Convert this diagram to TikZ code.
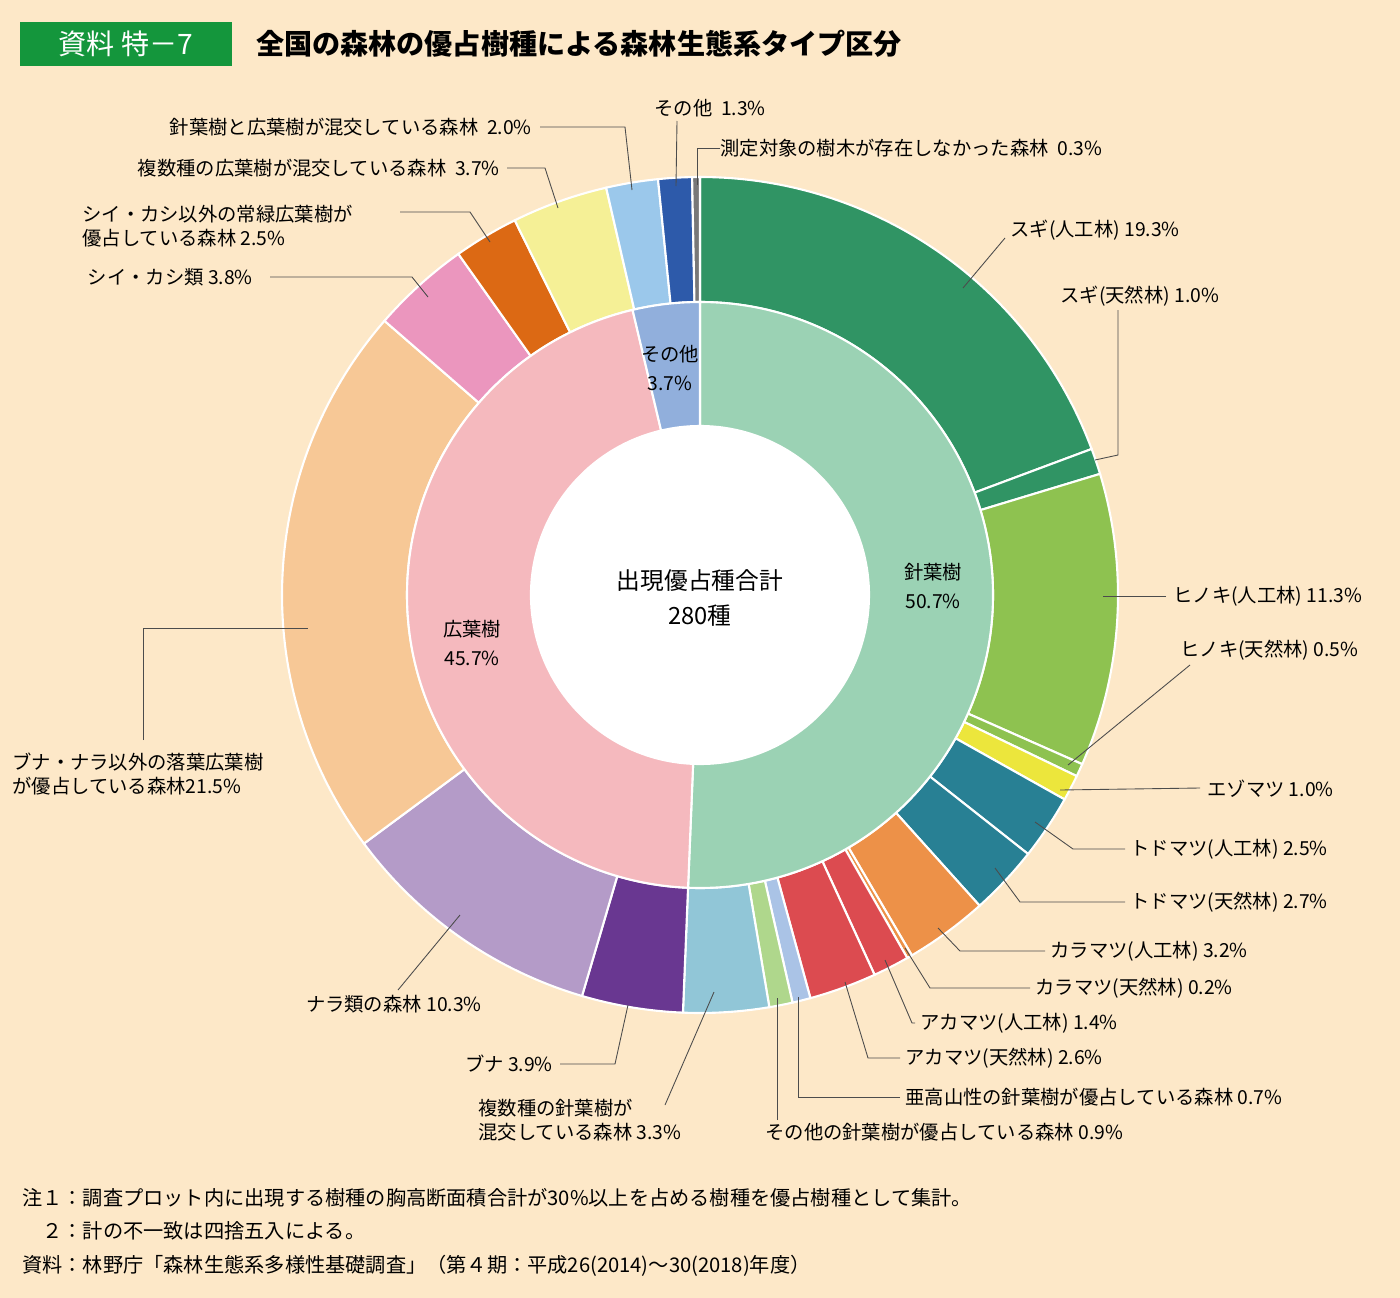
\documentclass[tikz,border=0pt]{standalone}
\usepackage{fontspec}
\setmainfont{Noto Sans CJK JP}
\usetikzlibrary{positioning}
\definecolor{bg}{RGB}{253,232,200}
\definecolor{titlegreen}{RGB}{20,150,60}
\definecolor{sugi}{RGB}{48,148,100}
\definecolor{hinoki}{RGB}{142,194,80}
\definecolor{ezo}{RGB}{236,230,60}
\definecolor{todo}{RGB}{40,128,148}
\definecolor{kara}{RGB}{237,145,72}
\definecolor{aka}{RGB}{220,75,80}
\definecolor{akou}{RGB}{170,195,230}
\definecolor{hoka}{RGB}{175,215,140}
\definecolor{fukushin}{RGB}{145,198,215}
\definecolor{buna}{RGB}{105,55,145}
\definecolor{nara}{RGB}{180,155,200}
\definecolor{rakuyou}{RGB}{247,200,150}
\definecolor{shii}{RGB}{235,150,190}
\definecolor{jouryoku}{RGB}{220,105,20}
\definecolor{fukukou}{RGB}{245,240,150}
\definecolor{konkou}{RGB}{155,200,235}
\definecolor{sonota}{RGB}{45,90,170}
\definecolor{sokutei}{RGB}{120,120,120}
\definecolor{shinin}{RGB}{155,210,180}
\definecolor{kouin}{RGB}{245,185,190}
\definecolor{sonotain}{RGB}{145,175,220}
\tikzset{
  lbl/.style={inner sep=0pt, font=\fontsize{11}{14}\selectfont},
  lbll/.style={lbl, anchor=west},
  lblr/.style={lbl, anchor=east},
  lead/.style={draw=black!70, line width=0.5pt},
  wedge/.style={draw=white, line width=1.2pt}
}
\begin{document}
\begin{tikzpicture}[x=0.02cm,y=-0.02cm]
\fill[bg] (0,0) rectangle (1400,1298);
\useasboundingbox (0,0) rectangle (1400,1298);

% title
\node[fill=titlegreen, text=white, minimum width=212*0.02cm, minimum height=44*0.02cm, font=\fontsize{16}{18}\selectfont] (tag) at (126,44) {資料\ 特－7};
\node[anchor=west, font=\fontsize{16}{18}\selectfont\bfseries] (title) at (250,44) {全国の森林の優占樹種による森林生態系タイプ区分};

% outer ring
\begin{scope}[shift={(700,595)}]
\def\cum{0}
\foreach \v/\c in {19.3/sugi,1.0/sugi,11.3/hinoki,0.5/hinoki,1.0/ezo,2.5/todo,2.7/todo,3.2/kara,0.2/kara,1.4/aka,2.6/aka,0.7/akou,0.9/hoka,3.3/fukushin,3.9/buna,10.3/nara,21.5/rakuyou,3.8/shii,2.5/jouryoku,3.7/fukukou,2.0/konkou,1.3/sonota,0.3/sokutei}{
  \pgfmathsetmacro\st{-90+\cum*3.6/0.999}
  \pgfmathsetmacro\en{-90+(\cum+\v)*3.6/0.999}
  \fill[\c,wedge] (\st:293) -- (\st:418) arc[start angle=\st,end angle=\en,radius=418] -- (\en:293) arc[start angle=\en,end angle=\st,radius=293] -- cycle;
  \pgfmathsetmacro\nc{\cum+\v}
  \global\let\cum\nc
}
% inner ring
\def\cum{0}
\foreach \v/\c in {50.7/shinin,45.7/kouin,3.7/sonotain}{
  \pgfmathsetmacro\st{-90+\cum*3.6/1.001}
  \pgfmathsetmacro\en{-90+(\cum+\v)*3.6/1.001}
  \fill[\c,wedge] (\st:169) -- (\st:293) arc[start angle=\st,end angle=\en,radius=293] -- (\en:169) arc[start angle=\en,end angle=\st,radius=169] -- cycle;
  \pgfmathsetmacro\nc{\cum+\v}
  \global\let\cum\nc
}
\fill[white] (0,0) circle[radius=169];
\end{scope}

% center and inner labels
\node[align=center, font=\fontsize{13.5}{20}\selectfont] (total) at (700,598) {出現優占種合計\\280種};
\node[lbl, align=center] (shin) at (933,586) {針葉樹\\[2pt]50.7\%};
\node[lbl, align=center] (kou) at (472,643) {広葉樹\\[2pt]45.7\%};
\node[lbl, align=center] (hokain) at (670,368) {その他\\[2pt]3.7\%};

% top labels
\node[lbl] (l-sonota) at (710,108) {その他\ \ 1.3\%};
\draw[lead] (677,121) -- (676,186);
\node[lbll] (l-sokutei) at (720,148) {測定対象の樹木が存在しなかった森林\ \ 0.3\%};
\draw[lead] (l-sokutei.west) -- (697,148) -- (697,185);
\node[lblr] (l-konkou) at (532,127) {針葉樹と広葉樹が混交している森林\ \ 2.0\%};
\draw[lead] (540,127) -- (625,127) -- (632,190);
\node[lblr] (l-fukukou) at (500,168) {複数種の広葉樹が混交している森林\ \ 3.7\%};
\draw[lead] (507,168) -- (545,168) -- (558,208);
\node[lbll, align=left] (l-jouryoku) at (82,226) {シイ・カシ以外の常緑広葉樹が\\優占している森林 2.5\%};
\draw[lead] (400,212) -- (470,212) -- (490,242);
\node[lblr] (l-shii) at (253,277) {シイ・カシ類 3.8\%};
\draw[lead] (270,277) -- (412,277) -- (428,297);

% right labels
\node[lbll] (l-sugi) at (1010,230) {スギ(人工林) 19.3\%};
\draw[lead] (1005,238) -- (963,288);
\node[lbll] (l-sugit) at (1060,296) {スギ(天然林) 1.0\%};
\draw[lead] (1118,310) -- (1118,455) -- (1095,460);
\node[lbll] (l-hinoki) at (1173,596) {ヒノキ(人工林) 11.3\%};
\draw[lead] (1166,596) -- (1103,596);
\node[lbll] (l-hinokit) at (1180,650) {ヒノキ(天然林) 0.5\%};
\draw[lead] (1190,665) -- (1068,765);
\node[lbll] (l-ezo) at (1207,789) {エゾマツ 1.0\%};
\draw[lead] (1200,788) -- (1060,790);
\node[lbll] (l-todo) at (1130,849) {トドマツ(人工林) 2.5\%};
\draw[lead] (1125,849) -- (1073,849) -- (1035,822);
\node[lbll] (l-todot) at (1130,902) {トドマツ(天然林) 2.7\%};
\draw[lead] (1125,902) -- (1020,902) -- (995,868);
\node[lbll] (l-kara) at (1050,951) {カラマツ(人工林) 3.2\%};
\draw[lead] (1045,951) -- (960,951) -- (938,928);
\node[lbll] (l-karat) at (1035,988) {カラマツ(天然林) 0.2\%};
\draw[lead] (1030,988) -- (930,988) -- (905,948);
\node[lbll] (l-aka) at (920,1023) {アカマツ(人工林) 1.4\%};
\draw[lead] (915,1023) -- (912,1023) -- (885,960);
\node[lbll] (l-akat) at (905,1058) {アカマツ(天然林) 2.6\%};
\draw[lead] (900,1058) -- (868,1058) -- (845,982);
\node[lbll] (l-akou) at (905,1097) {亜高山性の針葉樹が優占している森林 0.7\%};
\draw[lead] (900,1097) -- (798,1097) -- (798,997);
\node[lbll] (l-hoka) at (765,1132) {その他の針葉樹が優占している森林 0.9\%};
\draw[lead] (777,1120) -- (777,998);

% bottom left labels
\node[lbll, align=left] (l-fukushin) at (478,1120) {複数種の針葉樹が\\混交している森林 3.3\%};
\draw[lead] (665,1105) -- (714,992);
\node[lblr] (l-buna) at (553,1064) {ブナ 3.9\%};
\draw[lead] (560,1064) -- (615,1064) -- (628,1005);
\node[lblr] (l-nara) at (482,1004) {ナラ類の森林 10.3\%};
\draw[lead] (398,990) -- (460,915);
\node[lbll, align=left] (l-rakuyou) at (12,774) {ブナ・ナラ以外の落葉広葉樹\\が優占している森林21.5\%};
\draw[lead] (143,740) -- (143,628) -- (308,628);

% notes
\node[lbll, font=\fontsize{11.5}{14}\selectfont] (note1) at (22,1198) {注１：調査プロット内に出現する樹種の胸高断面積合計が30\%以上を占める樹種を優占樹種として集計。};
\node[lbll, font=\fontsize{11.5}{14}\selectfont] (note2) at (22,1231) {\quad ２：計の不一致は四捨五入による。};
\node[lbll, font=\fontsize{11.5}{14}\selectfont] (note3) at (22,1266) {資料：林野庁「森林生態系多様性基礎調査」（第４期：平成26(2014)～30(2018)年度）};
\end{tikzpicture}
\end{document}
